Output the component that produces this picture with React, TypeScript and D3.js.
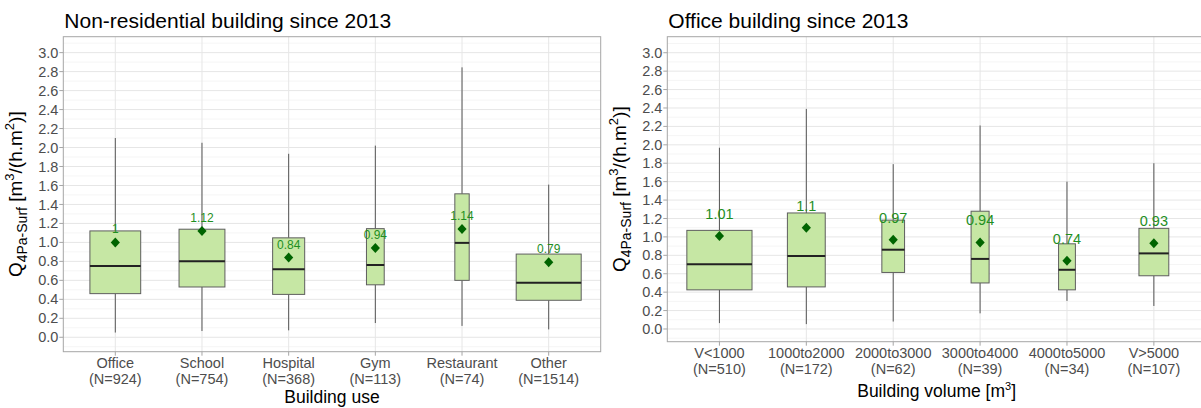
import * as d3 from 'd3'
import React from 'react'

// building use panel
const useCategories = ['Office', 'School', 'Hospital', 'Gym', 'Restaurant', 'Other']
const useCounts = [924, 754, 368, 113, 74, 1514]
const useLower = [0.05, 0.066, 0.073, 0.15, 0.12, 0.083]
const useQ1 = [0.46, 0.53, 0.452, 0.553, 0.6, 0.39]
const useMedian = [0.751, 0.8, 0.716, 0.762, 0.995, 0.574]
const useQ3 = [1.121, 1.139, 1.048, 1.145, 1.512, 0.877]
const useUpper = [2.1, 2.05, 1.934, 2.02, 2.845, 1.609]
const useMean = [1, 1.12, 0.84, 0.94, 1.14, 0.79]

// building volume panel
const volCategories = ['V<1000', '1000to2000', '2000to3000', '3000to4000', '4000to5000', 'V>5000']
const volCounts = [510, 172, 62, 39, 34, 107]
const volLower = [0.064, 0.053, 0.081, 0.17, 0.305, 0.25]
const volQ1 = [0.425, 0.457, 0.614, 0.5, 0.425, 0.578]
const volMedian = [0.704, 0.793, 0.861, 0.761, 0.643, 0.821]
const volQ3 = [1.071, 1.26, 1.182, 1.279, 0.925, 1.093]
const volUpper = [1.968, 2.39, 1.79, 2.21, 1.6, 1.8]
const volMean = [1.01, 1.1, 0.97, 0.94, 0.74, 0.93]

const yTicks = [0, 0.2, 0.4, 0.6, 0.8, 1.0, 1.2, 1.4, 1.6, 1.8, 2.0, 2.2, 2.4, 2.6, 2.8, 3.0]
const yMinor = [-0.1, 0.1, 0.3, 0.5, 0.7, 0.9, 1.1, 1.3, 1.5, 1.7, 1.9, 2.1, 2.3, 2.5, 2.7, 2.9, 3.1]

const FONT = "'Liberation Sans', Arial, Helvetica, sans-serif"
const BOX_FILL = '#c6e7a4'
const BOX_STROKE = '#5e5e5e'
const MEAN_COLOR = '#006400'
const LABEL_COLOR = '#1f8f1f'

// @ts-ignore
const Panel = ({ title, cats, counts, lower, q1, median, q3, upper, mean, left, right, top, bottom, yDomain, labelSize, labelOffset, xTitle, xTitleOffset }) => {
  const x = d3.scalePoint().domain(cats).range([left, right]).padding(0.6)
  const y = d3.scaleLinear().domain(yDomain).range([bottom, top])
  const step = x.step()
  const maxN = d3.max(counts as number[]) as number

  return (
    <g>
      <text x={left + 1} y={28} fontSize={21} fill="#000">{title}</text>

      {/* grid */}
      {yMinor.map((v) => (
        <line key={'mi' + v} x1={left} x2={right} y1={y(v)} y2={y(v)} stroke="#f2f2f2" strokeWidth={0.8} />
      ))}
      {yTicks.map((v) => (
        <line key={'ma' + v} x1={left} x2={right} y1={y(v)} y2={y(v)} stroke="#e6e6e6" strokeWidth={1} />
      ))}
      {cats.map((c: string) => (
        <line key={'vx' + c} x1={x(c)} x2={x(c)} y1={top} y2={bottom} stroke="#e6e6e6" strokeWidth={1} />
      ))}

      {/* boxes */}
      {cats.map((c: string, i: number) => {
        const cx = x(c) as number
        const w = 0.75 * step * Math.sqrt(counts[i] / maxN)
        return (
          <g key={'b' + c}>
            <line x1={cx} x2={cx} y1={y(q3[i])} y2={y(upper[i])} stroke="#555" strokeWidth={1} />
            <line x1={cx} x2={cx} y1={y(q1[i])} y2={y(lower[i])} stroke="#555" strokeWidth={1} />
            <rect x={cx - w / 2} y={y(q3[i])} width={w} height={y(q1[i]) - y(q3[i])} fill={BOX_FILL} stroke={BOX_STROKE} strokeWidth={1} />
            <line x1={cx - w / 2} x2={cx + w / 2} y1={y(median[i])} y2={y(median[i])} stroke="#222" strokeWidth={2} />
            <path d={`M${cx},${y(mean[i]) - 5}L${cx + 4.6},${y(mean[i])}L${cx},${y(mean[i]) + 5}L${cx - 4.6},${y(mean[i])}Z`} fill={MEAN_COLOR} />
            <text x={cx} y={y(mean[i]) - labelOffset} textAnchor="middle" fontSize={labelSize} fill={LABEL_COLOR}>
              {String(mean[i])}
            </text>
          </g>
        )
      })}

      {/* border */}
      <rect x={left} y={top} width={right - left} height={bottom - top} fill="none" stroke="#a6a6a6" strokeWidth={1} />

      {/* y axis */}
      {yTicks.map((v) => (
        <g key={'yt' + v}>
          <line x1={left - 4} x2={left} y1={y(v)} y2={y(v)} stroke="#a6a6a6" />
          <text x={left - 5} y={y(v)} dy="0.35em" textAnchor="end" fontSize={14.5} fill="#4d4d4d">
            {v.toFixed(1)}
          </text>
        </g>
      ))}
      <text transform={`translate(${left - 41},${(top + bottom) / 2}) rotate(-90)`} textAnchor="middle" fontSize={19} fill="#000">
        Q<tspan fontSize={14} dy={5}>4Pa-Surf</tspan>
        <tspan dy={-5}> [m</tspan>
        <tspan fontSize={13} dy={-8}>3</tspan>
        <tspan dy={8}>/(h.m</tspan>
        <tspan fontSize={13} dy={-8}>2</tspan>
        <tspan dy={8}>)]</tspan>
      </text>

      {/* x axis */}
      {cats.map((c: string, i: number) => (
        <g key={'xt' + c}>
          <line x1={x(c)} x2={x(c)} y1={bottom} y2={bottom + 4} stroke="#a6a6a6" />
          <text x={x(c)} y={bottom + 16.5} textAnchor="middle" fontSize={14.5} fill="#4d4d4d">{c}</text>
          <text x={x(c)} y={bottom + 32.5} textAnchor="middle" fontSize={14.5} fill="#4d4d4d">{`(N=${counts[i]})`}</text>
        </g>
      ))}
      <text x={(left + right) / 2} y={bottom + xTitleOffset} textAnchor="middle" fontSize={17.5} fill="#000">
        {xTitle}
      </text>
    </g>
  )
}

const App = () => {
  return (
    <svg width={1201} height={408} style={{ position: 'absolute', left: 0, top: 0, fontFamily: FONT, background: '#fff' }}>
      <Panel
        title="Non-residential building since 2013"
        cats={useCategories}
        counts={useCounts}
        lower={useLower}
        q1={useQ1}
        median={useMedian}
        q3={useQ3}
        upper={useUpper}
        mean={useMean}
        left={63.3}
        right={600.7}
        top={36.7}
        bottom={351.7}
        yDomain={[-0.152, 3.168]}
        labelSize={12}
        labelOffset={9}
        xTitle="Building use"
        xTitleOffset={51}
      />
      <Panel
        title="Office building since 2013"
        cats={volCategories}
        counts={volCounts}
        lower={volLower}
        q1={volQ1}
        median={volMedian}
        q3={volQ3}
        upper={volUpper}
        mean={volMean}
        left={667.3}
        right={1206}
        top={36.7}
        bottom={341.7}
        yDomain={[-0.138, 3.174]}
        labelSize={14.5}
        labelOffset={17}
        xTitle={
          <>
            Building volume [m<tspan fontSize={11} dy={-7}>3</tspan>
            <tspan dy={7}>]</tspan>
          </>
        }
        xTitleOffset={55}
      />
    </svg>
  )
}

export default App
